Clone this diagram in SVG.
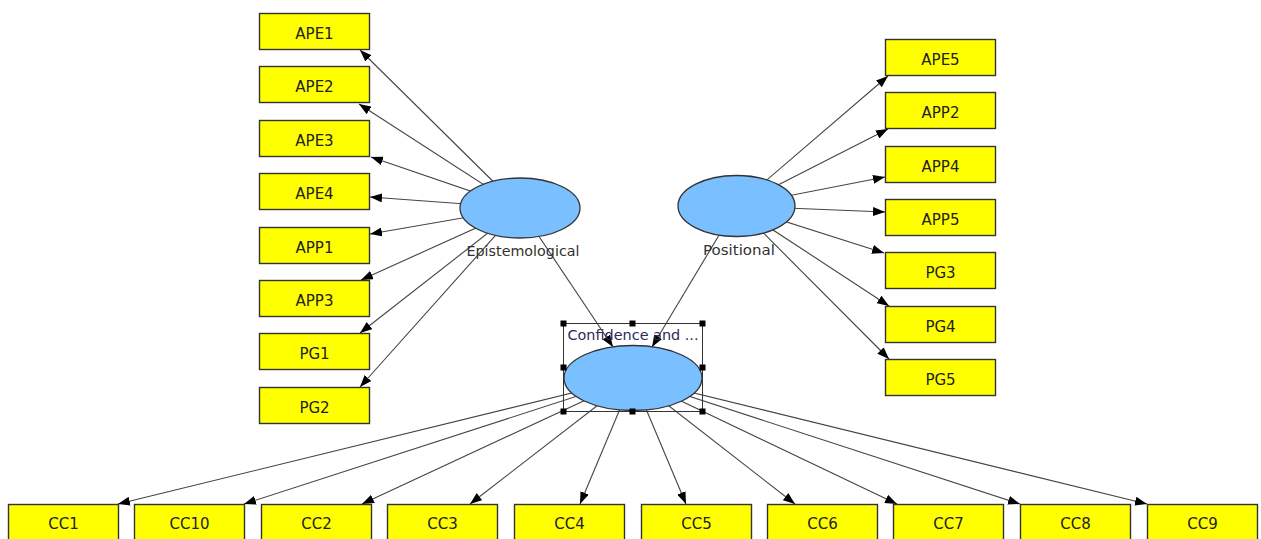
<svg xmlns="http://www.w3.org/2000/svg" width="1261" height="539" viewBox="0 0 1261 539">
<style>
.box{fill:#ffff00;stroke:#333;stroke-width:1.4}
.bt{font-family:"DejaVu Sans",sans-serif;font-size:15px;fill:#222;text-anchor:middle}
.lv{fill:#7abfff;stroke:#333;stroke-width:1.3}
.lt{font-family:"DejaVu Sans",sans-serif;font-size:14px;fill:#333;text-anchor:middle}
.c{stroke:#444;stroke-width:1.1;fill:none;marker-end:url(#ah)}
.h{fill:#000}
</style>
<defs>
<marker id="ah" viewBox="0 0 12 9" refX="12" refY="4.5" markerWidth="12" markerHeight="9" markerUnits="userSpaceOnUse" orient="auto">
<path d="M0,0 L12,4.5 L0,9 z" fill="#000"/>
</marker>
</defs>
<rect width="1261" height="539" fill="#fff"/>
<g id="connectors">
<line class="c" x1="520" y1="208" x2="360" y2="50"/>
<line class="c" x1="520" y1="208" x2="359" y2="104"/>
<line class="c" x1="520" y1="208" x2="371" y2="157"/>
<line class="c" x1="520" y1="208" x2="370" y2="197"/>
<line class="c" x1="520" y1="208" x2="370" y2="234"/>
<line class="c" x1="520" y1="208" x2="361" y2="280"/>
<line class="c" x1="520" y1="208" x2="360" y2="333"/>
<line class="c" x1="520" y1="208" x2="360" y2="387"/>
<line class="c" x1="736.5" y1="206" x2="888" y2="76"/>
<line class="c" x1="736.5" y1="206" x2="888" y2="129"/>
<line class="c" x1="736.5" y1="206" x2="885" y2="177"/>
<line class="c" x1="736.5" y1="206" x2="885" y2="212"/>
<line class="c" x1="736.5" y1="206" x2="884" y2="253"/>
<line class="c" x1="736.5" y1="206" x2="889" y2="306"/>
<line class="c" x1="736.5" y1="206" x2="889" y2="359"/>
<line class="c" x1="520" y1="208" x2="613" y2="347"/>
<line class="c" x1="736.5" y1="206" x2="652" y2="347"/>
<line class="c" x1="633" y1="378" x2="118" y2="504"/>
<line class="c" x1="633" y1="378" x2="244" y2="504"/>
<line class="c" x1="633" y1="378" x2="362" y2="504"/>
<line class="c" x1="633" y1="378" x2="470" y2="504"/>
<line class="c" x1="633" y1="378" x2="580" y2="504"/>
<line class="c" x1="633" y1="378" x2="686" y2="504"/>
<line class="c" x1="633" y1="378" x2="795" y2="504"/>
<line class="c" x1="633" y1="378" x2="897" y2="504"/>
<line class="c" x1="633" y1="378" x2="1020" y2="504"/>
<line class="c" x1="633" y1="378" x2="1147" y2="504"/>
</g>
<g id="Epistemological">
<ellipse class="lv" cx="520" cy="208" rx="60" ry="30"/>
<text class="lt" x="523" y="256" textLength="113" lengthAdjust="spacingAndGlyphs">Epistemological</text>
</g>
<g id="Positional">
<ellipse class="lv" cx="736.5" cy="206" rx="58.5" ry="30.5"/>
<text class="lt" x="739" y="255" textLength="72" lengthAdjust="spacingAndGlyphs">Positional</text>
</g>
<g id="Confidence">
<ellipse class="lv" cx="633" cy="378" rx="69" ry="32.5"/>
<text class="lt" x="633" y="340" fill="#2b2b55" style="fill:#2b2b55" textLength="131" lengthAdjust="spacingAndGlyphs">Confidence and ...</text>
<rect x="563.5" y="323.5" width="139" height="88" fill="none" stroke="#333" stroke-width="1"/>
<rect class="h" x="560.5" y="320.5" width="6" height="6"/>
<rect class="h" x="629.5" y="320.5" width="6" height="6"/>
<rect class="h" x="699.5" y="320.5" width="6" height="6"/>
<rect class="h" x="560.5" y="364.5" width="6" height="6"/>
<rect class="h" x="699.5" y="364.5" width="6" height="6"/>
<rect class="h" x="560.5" y="408.5" width="6" height="6"/>
<rect class="h" x="629.5" y="408.5" width="6" height="6"/>
<rect class="h" x="699.5" y="408.5" width="6" height="6"/>
</g>
<g id="APE1"><rect class="box" x="259.5" y="13.5" width="110" height="36"/><text class="bt" x="314.5" y="38.5">APE1</text></g>
<g id="APE2"><rect class="box" x="259.5" y="66.5" width="110" height="36"/><text class="bt" x="314.5" y="91.5">APE2</text></g>
<g id="APE3"><rect class="box" x="259.5" y="120.5" width="110" height="36"/><text class="bt" x="314.5" y="145.5">APE3</text></g>
<g id="APE4"><rect class="box" x="259.5" y="173.5" width="110" height="36"/><text class="bt" x="314.5" y="198.5">APE4</text></g>
<g id="APP1"><rect class="box" x="259.5" y="227.5" width="110" height="36"/><text class="bt" x="314.5" y="252.5">APP1</text></g>
<g id="APP3"><rect class="box" x="259.5" y="280.5" width="110" height="36"/><text class="bt" x="314.5" y="305.5">APP3</text></g>
<g id="PG1"><rect class="box" x="259.5" y="333.5" width="110" height="36"/><text class="bt" x="314.5" y="358.5">PG1</text></g>
<g id="PG2"><rect class="box" x="259.5" y="387.5" width="110" height="36"/><text class="bt" x="314.5" y="412.5">PG2</text></g>
<g id="APE5"><rect class="box" x="885.5" y="39.5" width="110" height="36"/><text class="bt" x="940.5" y="64.5">APE5</text></g>
<g id="APP2"><rect class="box" x="885.5" y="92.5" width="110" height="36"/><text class="bt" x="940.5" y="117.5">APP2</text></g>
<g id="APP4"><rect class="box" x="885.5" y="146.5" width="110" height="36"/><text class="bt" x="940.5" y="171.5">APP4</text></g>
<g id="APP5"><rect class="box" x="885.5" y="199.5" width="110" height="36"/><text class="bt" x="940.5" y="224.5">APP5</text></g>
<g id="PG3"><rect class="box" x="885.5" y="252.5" width="110" height="36"/><text class="bt" x="940.5" y="277.5">PG3</text></g>
<g id="PG4"><rect class="box" x="885.5" y="306.5" width="110" height="36"/><text class="bt" x="940.5" y="331.5">PG4</text></g>
<g id="PG5"><rect class="box" x="885.5" y="359.5" width="110" height="36"/><text class="bt" x="940.5" y="384.5">PG5</text></g>
<g id="CC1"><rect class="box" x="8.5" y="504.5" width="110" height="40"/><text class="bt" x="63.5" y="529">CC1</text></g>
<g id="CC10"><rect class="box" x="134.5" y="504.5" width="110" height="40"/><text class="bt" x="189.5" y="529">CC10</text></g>
<g id="CC2"><rect class="box" x="261.5" y="504.5" width="110" height="40"/><text class="bt" x="316.5" y="529">CC2</text></g>
<g id="CC3"><rect class="box" x="387.5" y="504.5" width="110" height="40"/><text class="bt" x="442.5" y="529">CC3</text></g>
<g id="CC4"><rect class="box" x="514.5" y="504.5" width="110" height="40"/><text class="bt" x="569.5" y="529">CC4</text></g>
<g id="CC5"><rect class="box" x="641.5" y="504.5" width="110" height="40"/><text class="bt" x="696.5" y="529">CC5</text></g>
<g id="CC6"><rect class="box" x="767.5" y="504.5" width="110" height="40"/><text class="bt" x="822.5" y="529">CC6</text></g>
<g id="CC7"><rect class="box" x="893.5" y="504.5" width="110" height="40"/><text class="bt" x="948.5" y="529">CC7</text></g>
<g id="CC8"><rect class="box" x="1020.5" y="504.5" width="110" height="40"/><text class="bt" x="1075.5" y="529">CC8</text></g>
<g id="CC9"><rect class="box" x="1147.5" y="504.5" width="110" height="40"/><text class="bt" x="1202.5" y="529">CC9</text></g>
</svg>
